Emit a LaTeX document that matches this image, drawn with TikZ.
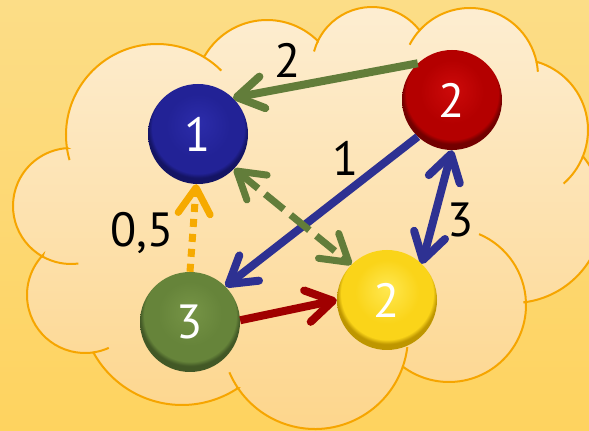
\documentclass[tikz,border=0pt]{standalone}
\usepackage{fontspec}
\setmainfont{PT Sans}
\usetikzlibrary{arrows.meta}

\definecolor{bgtop}{RGB}{252,221,135}
\definecolor{bgbottom}{RGB}{254,211,95}
\definecolor{cloudtop}{RGB}{253,238,211}
\definecolor{cloudbottom}{RGB}{253,213,138}
\definecolor{cloudline}{RGB}{246,165,0}
\definecolor{edgegreen}{RGB}{98,125,58}
\definecolor{edgeblue}{RGB}{46,49,146}
\definecolor{edgered}{RGB}{160,0,0}
\definecolor{edgeorange}{RGB}{246,170,0}

\definecolor{blueA}{RGB}{44,44,170}
\definecolor{blueB}{RGB}{34,34,150}
\definecolor{blueC}{RGB}{20,20,100}
\definecolor{redA}{RGB}{205,10,10}
\definecolor{redB}{RGB}{180,0,0}
\definecolor{redC}{RGB}{115,0,0}
\definecolor{yellowA}{RGB}{255,232,80}
\definecolor{yellowB}{RGB}{250,212,25}
\definecolor{yellowC}{RGB}{190,150,0}
\definecolor{greenA}{RGB}{118,148,70}
\definecolor{greenB}{RGB}{102,132,58}
\definecolor{greenC}{RGB}{66,88,38}

\pgfdeclareradialshading{ballblue}{\pgfpoint{0bp}{6bp}}{color(0bp)=(blueA); color(16bp)=(blueB); color(23bp)=(blueB); color(25bp)=(blueC); color(50bp)=(blueC)}
\pgfdeclareradialshading{ballred}{\pgfpoint{0bp}{6bp}}{color(0bp)=(redA); color(16bp)=(redB); color(23bp)=(redB); color(25bp)=(redC); color(50bp)=(redC)}
\pgfdeclareradialshading{ballyellow}{\pgfpoint{0bp}{6bp}}{color(0bp)=(yellowA); color(16bp)=(yellowB); color(23bp)=(yellowB); color(25bp)=(yellowC); color(50bp)=(yellowC)}
\pgfdeclareradialshading{ballgreen}{\pgfpoint{0bp}{6bp}}{color(0bp)=(greenA); color(16bp)=(greenB); color(23bp)=(greenB); color(25bp)=(greenC); color(50bp)=(greenC)}

\tikzset{
  ball/.style={circle, shade, minimum size=100pt, inner sep=0pt, text=white,
    font=\fontsize{48}{48}\selectfont},
  weight/.style={inner sep=0pt, font=\fontsize{48}{48}\selectfont},
  cloudrim/.style={draw=cloudline, line width=2pt},
  barb/.tip={Straight Barb[length=26pt, width=32pt, line cap=round, line join=round]},
  link/.style={line width=8pt, -barb},
  twolink/.style={line width=8pt, barb-barb}
}

\begin{document}
\begin{tikzpicture}[x=1pt, y=1pt]
\useasboundingbox (0,0) rectangle (589,431);
\clip (0,0) rectangle (589,431);
\shade[top color=bgtop, bottom color=bgbottom] (0,0) rectangle (589,431);

% cloud
\shadedraw[top color=cloudtop, bottom color=cloudbottom, cloudrim]
  ([shift={(188.2:91)}]157,296) arc[start angle=188.2, end angle=59, radius=91]
  -- ([shift={(149:72)}]267,339) arc[start angle=149, end angle=45, radius=72]
  -- ([shift={(154:60)}]372,364) arc[start angle=154, end angle=37.6, radius=60]
  -- ([shift={(137.4:68)}]470,355) arc[start angle=137.4, end angle=12, radius=68]
  -- ([shift={(73.7:71)}]517,301) arc[start angle=73.7, end angle=-22, radius=71]
  -- ([shift={(38.4:90)}]513,218) arc[start angle=38.4, end angle=-83.4, radius=90]
  -- ([shift={(2.3:77)}]449,126) arc[start angle=2.3, end angle=-126.6, radius=77]
  -- ([shift={(-19.5:93)}]315,95) arc[start angle=-19.5, end angle=-146, radius=93]
  -- ([shift={(-56.3:101)}]182,127) arc[start angle=-56.3, end angle=-151.7, radius=101]
  -- ([shift={(-81.6:58)}]85,136) arc[start angle=-81.6, end angle=-223.8, radius=58]
  -- ([shift={(240.7:58)}]71,225) arc[start angle=240.7, end angle=93.7, radius=58]
  -- cycle;
\draw[cloudrim] ([shift={(196:91)}]157,296) arc[start angle=196, end angle=188.2, radius=91];
\draw[cloudrim] ([shift={(59:91)}]157,296) arc[start angle=59, end angle=45, radius=91];
\draw[cloudrim] ([shift={(165:60)}]372,364) arc[start angle=165, end angle=154, radius=60];
\draw[cloudrim] ([shift={(152.6:68)}]470,355) arc[start angle=152.6, end angle=137.4, radius=68];
\draw[cloudrim] ([shift={(12:68)}]470,355) arc[start angle=12, end angle=3.6, radius=68];
\draw[cloudrim] ([shift={(-22:71)}]517,301) arc[start angle=-22, end angle=-49, radius=71];
\draw[cloudrim] ([shift={(67:77)}]449,126) arc[start angle=67, end angle=2.3, radius=77];
\draw[cloudrim] ([shift={(-157:93)}]315,95) arc[start angle=-157, end angle=-146, radius=93];
\draw[cloudrim] ([shift={(-19.5:93)}]315,95) arc[start angle=-19.5, end angle=-6.9, radius=93];
\draw[cloudrim] ([shift={(-65.8:58)}]85,136) arc[start angle=-65.8, end angle=-81.6, radius=58];
\draw[cloudrim] ([shift={(277.3:58)}]71,225) arc[start angle=277.3, end angle=240.7, radius=58];

% nodes
\node[ball, shading=ballblue] (blue) at (198,297) {1};
\node[ball, shading=ballred] (red) at (452,331) {2};
\node[ball, shading=ballgreen] (green) at (190,109) {3};
\node[ball, shading=ballyellow] (yellow) at (387,131) {2};

% edges
\draw[link, edgegreen] (red.133) -- (blue.46);
\draw[link, edgeblue] (red.227) -- (green.45);
\draw[twolink, edgegreen, line width=7pt, dash pattern=on 24pt off 9pt] (blue.-44) -- (yellow.135);
\draw[link, edgeorange, line width=7pt, dash pattern=on 8pt off 7pt] (green.north) -- (blue.-92);
\draw[link, edgered] (green.2) -- (yellow.180);
\draw[twolink, edgeblue] (yellow.46) -- (red.270);

% weights
\node[weight] (w1) at (288,371) {2};
\node[weight] (w2) at (346,273) {1};
\node[weight] (w3) at (142,198) {0,5};
\node[weight] (w4) at (461,211) {3};
\end{tikzpicture}
\end{document}
